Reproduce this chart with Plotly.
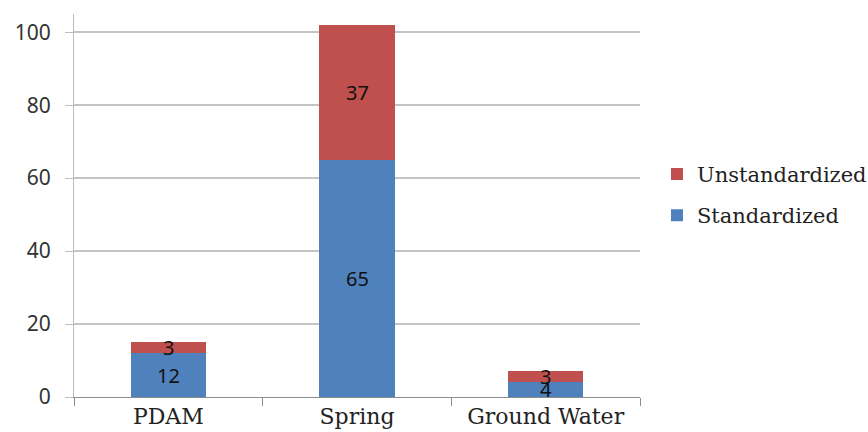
import plotly.graph_objects as go

# Water source categories and counts per status
categories = ["PDAM", "Spring", "Ground Water"]
standardized = [12, 65, 4]
unstandardized = [3, 37, 3]
y_ticks = [0, 20, 40, 60, 80, 100]

BLUE = "#4F81BD"
RED = "#C0504D"
SERIF = "DejaVu Serif"
SANS = "Noto Sans"

fig = go.Figure()
fig.add_trace(go.Bar(name="Standardized", x=categories, y=standardized,
                     legendgroup="std", legendrank=2,
                     marker=dict(color=BLUE, line=dict(width=0))))
fig.add_trace(go.Bar(name="Unstandardized", x=categories, y=unstandardized,
                     legendgroup="unstd", legendrank=1,
                     marker=dict(color=RED, line=dict(width=0))))

# value labels centred in each stacked segment
for cat, s, u in zip(categories, standardized, unstandardized):
    fig.add_annotation(x=cat, y=s / 2, text=str(s), showarrow=False,
                       font=dict(family=SANS, size=20, color="#111"))
    fig.add_annotation(x=cat, y=s + u / 2, text=str(u), showarrow=False,
                       font=dict(family=SANS, size=20, color="#111"))

fig.update_layout(
    barmode="stack",
    bargap=0.6,
    width=868, height=432,
    margin=dict(l=74, r=228, t=14, b=35, autoexpand=False),
    plot_bgcolor="white", paper_bgcolor="white",
    legend=dict(x=1.03, y=0.635, xanchor="left", yanchor="top",
                traceorder="grouped",
                font=dict(family=SERIF, size=21, color="#222"),
                itemwidth=30, tracegroupgap=11),
    xaxis=dict(showline=True, linecolor="#8c8c8c", linewidth=1,
               ticks="outside", tickson="boundaries", ticklen=8,
               tickcolor="#8c8c8c", automargin=False,
               tickfont=dict(family=SERIF, size=22, color="#222")),
    yaxis=dict(range=[0, 105], tickvals=y_ticks,
               showline=True, linecolor="#bdbdbd", linewidth=1,
               showgrid=True, gridcolor="#c4c4c4", gridwidth=1.5,
               ticks="outside", ticklen=8, tickcolor="#bdbdbd",
               ticklabelstandoff=10, automargin=False,
               tickfont=dict(family=SANS, size=21, color="#333"),
               zeroline=False),
)

fig.write_html("out.html")
